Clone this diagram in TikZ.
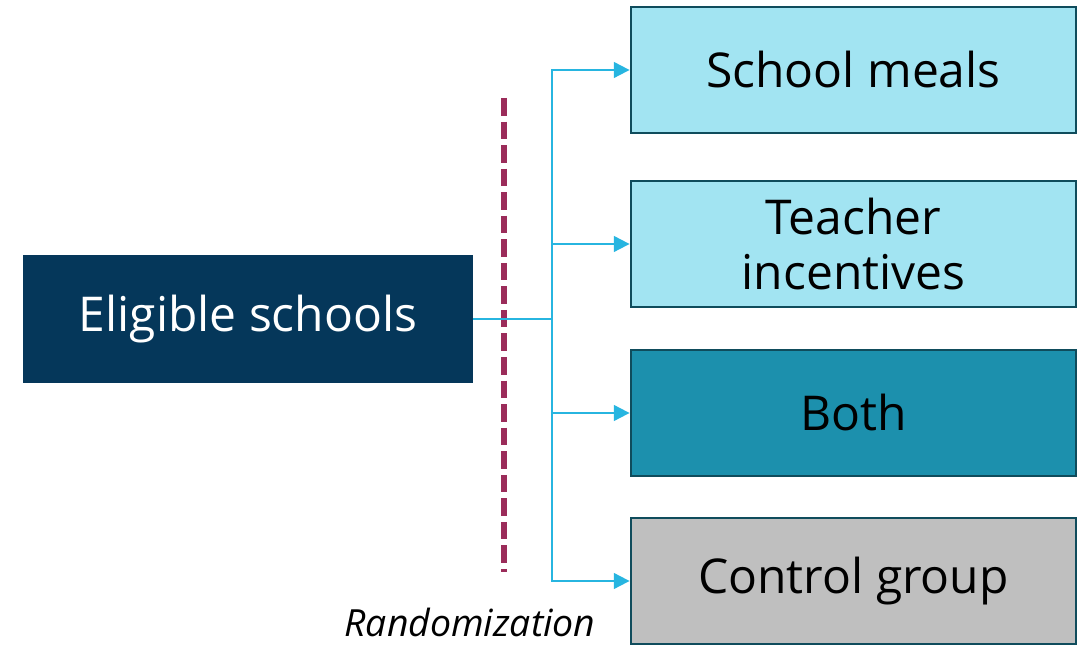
\documentclass[tikz,border=0pt]{standalone}
\usepackage{fontspec}
\setmainfont{Open Sans}
\usetikzlibrary{arrows.meta,positioning}
\definecolor{navy}{HTML}{05375A}
\definecolor{paleblue}{HTML}{A2E4F2}
\definecolor{teal}{HTML}{1C90AD}
\definecolor{ctrlgray}{HTML}{BFBFBF}
\definecolor{rim}{HTML}{0F4C5C}
\definecolor{wire}{HTML}{27B5E0}
\definecolor{maroon}{HTML}{9B2C5A}
\begin{document}
\begin{tikzpicture}[
		groupbox/.style={draw=rim, line width=1.6pt, minimum width=8.9cm, minimum height=2.52cm, align=center, inner sep=0pt, font=\fontsize{27.3}{31.5}\selectfont},
		wirearrow/.style={wire, line width=1.1pt, -{Triangle[length=9pt,width=9pt]}}
	]
	\useasboundingbox (0,0) rectangle (21.72,12.88);
	\node[groupbox, fill=navy, draw=navy, text=white, minimum width=8.96cm] (elig) at (4.96,6.5) {Eligible schools};
	\node[groupbox, fill=paleblue] (meals) at (17.07,11.48) {School meals};
	\node[groupbox, fill=paleblue] (teach) at (17.07,8.0) {Teacher\\incentives};
	\node[groupbox, fill=teal] (both) at (17.07,4.62) {Both};
	\node[groupbox, fill=ctrlgray] (ctrl) at (17.07,1.26) {Control group};
	\coordinate (split) at (11.04,6.5);
	% randomization line
	\coordinate (cuttop) at (10.08,10.92);
	\coordinate (cutbot) at (10.08,1.44);
	\draw[maroon, line width=3.4pt, dash pattern=on 10pt off 3.4pt] (cuttop) -- (cutbot);
	\node[anchor=base, font=\fontsize{21.3}{24}\selectfont\itshape, inner sep=0pt] (rand) at (9.4,0.16) {Randomization};
	% branches
	\draw[wire, line width=1.1pt] (elig.east) -- (split);
	\foreach \dest in {meals,teach,both,ctrl}
		\draw[wirearrow] (split) |- (\dest.west);
\end{tikzpicture}
\end{document}
